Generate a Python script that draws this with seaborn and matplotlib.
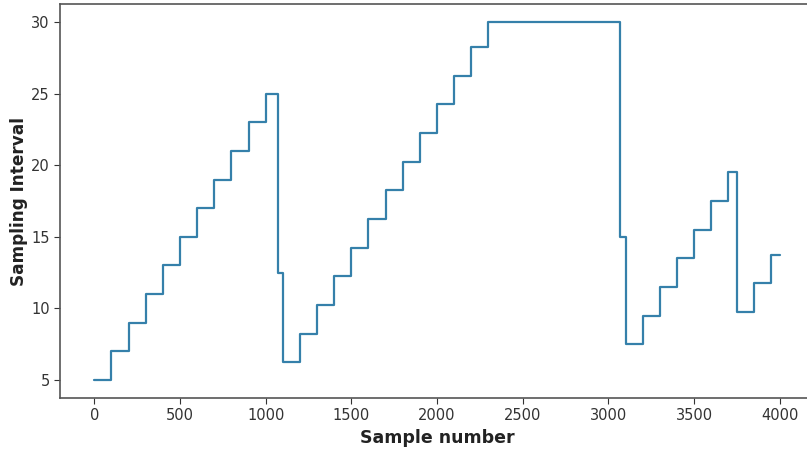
import matplotlib
matplotlib.use("Agg")
import matplotlib.pyplot as plt
import seaborn as sns
import pandas as pd

# Step start positions (sample number) and sampling interval values
sample_number = [0, 100, 200, 300, 400, 500, 600, 700, 800, 900, 1000, 1070,
                 1100, 1200, 1300, 1400, 1500, 1600, 1700, 1800, 1900, 2000,
                 2100, 2200, 2300, 3070, 3100, 3200, 3300, 3400, 3500, 3600,
                 3700, 3750, 3850, 3950, 4000]
sampling_interval = [5, 7, 9, 11, 13, 15, 17, 19, 21, 23, 25, 12.5,
                     6.25, 8.25, 10.25, 12.25, 14.25, 16.25, 18.25, 20.25, 22.25, 24.25,
                     26.25, 28.25, 30, 15, 7.5, 9.5, 11.5, 13.5, 15.5, 17.5,
                     19.5, 9.75, 11.75, 13.75, 13.75]

x_ticks = [0, 500, 1000, 1500, 2000, 2500, 3000, 3500, 4000]
y_ticks = [5, 10, 15, 20, 25, 30]

df = pd.DataFrame({"Sample number": sample_number, "Sampling Interval": sampling_interval})

sns.set_style("ticks")
plt.rcParams['font.family'] = ['DejaVu Sans']

fig = plt.figure(figsize=(8.07, 4.5), dpi=100)
ax = fig.add_axes([60/807, 52/450, (814-60)/807, (398-4)/450])

sns.lineplot(data=df, x="Sample number", y="Sampling Interval", ax=ax,
             drawstyle="steps-post", color="#3580aa", linewidth=1.6, sort=False)

ax.set_xlim(-200, 4200)
ax.set_ylim(3.75, 31.25)
ax.set_xticks(x_ticks)
ax.set_yticks(y_ticks)
ax.tick_params(axis="both", labelsize=10.5, colors="#333333", length=4)
ax.set_xlabel("Sample number", fontsize=12.5, fontweight="bold", color="#222222", labelpad=4)
ax.set_ylabel("Sampling Interval", fontsize=12.2, fontweight="bold", color="#222222", labelpad=2)
for s in ax.spines.values():
    s.set_color("#555555")
    s.set_linewidth(1.2)

fig.savefig("out.png", dpi=100)
